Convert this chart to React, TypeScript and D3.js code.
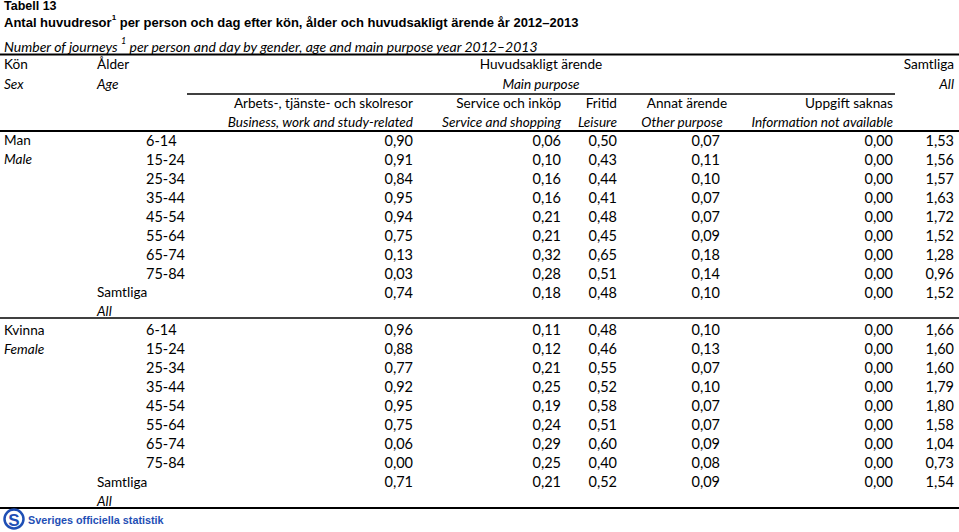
import React from "react";
import * as d3 from "d3";

const ageGroups = ["6-14", "15-24", "25-34", "35-44", "45-54", "55-64", "65-74", "75-84"];
const purposeSv = ["Arbets-, tjänste- och skolresor", "Service och inköp", "Fritid", "Annat ärende", "Uppgift saknas"];
const purposeEn = ["Business, work and study-related", "Service and shopping", "Leisure", "Other purpose", "Information not available"];

const menWork = [0.90, 0.91, 0.84, 0.95, 0.94, 0.75, 0.13, 0.03, 0.74];
const menService = [0.06, 0.10, 0.16, 0.16, 0.21, 0.21, 0.32, 0.28, 0.18];
const menLeisure = [0.50, 0.43, 0.44, 0.41, 0.48, 0.45, 0.65, 0.51, 0.48];
const menOther = [0.07, 0.11, 0.10, 0.07, 0.07, 0.09, 0.18, 0.14, 0.10];
const menNA = [0, 0, 0, 0, 0, 0, 0, 0, 0];
const menAll = [1.53, 1.56, 1.57, 1.63, 1.72, 1.52, 1.28, 0.96, 1.52];

const womenWork = [0.96, 0.88, 0.77, 0.92, 0.95, 0.75, 0.06, 0.00, 0.71];
const womenService = [0.11, 0.12, 0.21, 0.25, 0.19, 0.24, 0.29, 0.25, 0.21];
const womenLeisure = [0.48, 0.46, 0.55, 0.52, 0.58, 0.51, 0.60, 0.40, 0.52];
const womenOther = [0.10, 0.13, 0.07, 0.10, 0.07, 0.07, 0.09, 0.08, 0.09];
const womenNA = [0, 0, 0, 0, 0, 0, 0, 0, 0];
const womenAll = [1.66, 1.60, 1.60, 1.79, 1.80, 1.58, 1.04, 0.73, 1.54];

const W = 959;
const H = 532;
const FONT = "Lato, 'Open Sans', sans-serif";
const ARIAL = "'Liberation Sans', Arial, sans-serif";
const FS_NUM = 14.5;
const FS_LBL = 13.6;

const fmt = (v: number) => d3.format(".2f")(v).replace(".", ",");

export default function App() {
  const colRight = [413, 561, 617, 720, 893, 954];
  const rowMen = d3.scaleLinear().domain([0, 1]).range([140, 159]);
  const rowWomen = d3.scaleLinear().domain([0, 1]).range([329.7, 348.7]);

  const groups = [
    { sv: "Man", en: "Male", y: rowMen, cols: [menWork, menService, menLeisure, menOther, menNA, menAll] },
    { sv: "Kvinna", en: "Female", y: rowWomen, cols: [womenWork, womenService, womenLeisure, womenOther, womenNA, womenAll] },
  ];

  const txt = { fontFamily: FONT, fontSize: FS_LBL, fill: "#000", dominantBaseline: "central" as const };
  const num = { ...txt, fontSize: FS_NUM };
  const it = { ...txt, fontStyle: "italic" };

  return (
    <svg width={W} height={H} style={{ position: "absolute", left: 0, top: 0, background: "#fff" }}>
      <rect x={0} y={0} width={W} height={H} fill="#fff" />
      <text x={4} y={6} style={{ fontFamily: ARIAL, fontWeight: "bold", fontSize: 12.5 }} dominantBaseline="central">Tabell 13</text>
      <text x={4} y={22} style={{ fontFamily: ARIAL, fontWeight: "bold", fontSize: 13 }} dominantBaseline="central">
        Antal huvudresor<tspan fontSize={8} dy={-5}>1</tspan><tspan dy={5}> per person och dag efter kön, ålder och huvudsakligt ärende år 2012–2013</tspan>
      </text>
      <text x={4} y={46} style={{ ...it, fontSize: 14 }}>
        Number of journeys <tspan fontSize={9} dy={-6}>1</tspan><tspan dy={6}> per person and day by gender, age and main purpose year 2012–2013</tspan>
      </text>

      <line x1={0} x2={W} y1={54.5} y2={54.5} stroke="#000" strokeWidth={2} />
      <text x={4} y={64} style={txt}>Kön</text>
      <text x={4} y={84} style={it}>Sex</text>
      <text x={97} y={64} style={txt}>Ålder</text>
      <text x={97} y={84} style={it}>Age</text>
      <text x={541} y={64} style={txt} textAnchor="middle">Huvudsakligt ärende</text>
      <text x={541} y={84} style={it} textAnchor="middle">Main purpose</text>
      <text x={954} y={64} style={txt} textAnchor="end">Samtliga</text>
      <text x={954} y={84} style={it} textAnchor="end">All</text>
      <line x1={187} x2={895} y1={94} y2={94} stroke="#000" strokeWidth={1.5} />

      {purposeSv.map((p, i) => {
        const anchor = i === 3 ? "middle" : "end";
        const x = i === 3 ? 687 : colRight[i];
        return (
          <g key={p}>
            <text x={x} y={103} style={txt} textAnchor={anchor}>{p}</text>
            <text x={i === 3 ? 682 : x} y={122} style={it} textAnchor={anchor}>{purposeEn[i]}</text>
          </g>
        );
      })}
      <line x1={0} x2={W} y1={131} y2={131} stroke="#000" strokeWidth={2} />

      {groups.map((g) => (
        <g key={g.sv}>
          <text x={4} y={g.y(0)} style={txt}>{g.sv}</text>
          <text x={4} y={g.y(1)} style={it}>{g.en}</text>
          {ageGroups.map((a, i) => (
            <text key={a} x={146} y={g.y(i)} style={num}>{a}</text>
          ))}
          <text x={97} y={g.y(8)} style={txt}>Samtliga</text>
          <text x={97} y={g.y(9)} style={it}>All</text>
          {g.cols.map((col, ci) =>
            col.map((v, ri) => (
              <text key={`${ci}-${ri}`} x={colRight[ci]} y={g.y(ri)} style={num} textAnchor="end">{fmt(v)}</text>
            ))
          )}
        </g>
      ))}
      <line x1={0} x2={W} y1={318} y2={318} stroke="#000" strokeWidth={1.5} />
      <line x1={0} x2={W} y1={508} y2={508} stroke="#000" strokeWidth={2} />

      <g>
        <circle cx={14} cy={519} r={9.5} fill="none" stroke="#1f4fb5" strokeWidth={2.5} />
        <text x={14} y={520} textAnchor="middle" dominantBaseline="central" style={{ fontFamily: ARIAL, fontWeight: "bold", fontSize: 17, fill: "#1f4fb5" }}>S</text>
        <text x={28} y={520} dominantBaseline="central" style={{ fontFamily: ARIAL, fontWeight: "bold", fontSize: 10.8, fill: "#1f4fb5" }}>Sveriges officiella statistik</text>
      </g>
    </svg>
  );
}
